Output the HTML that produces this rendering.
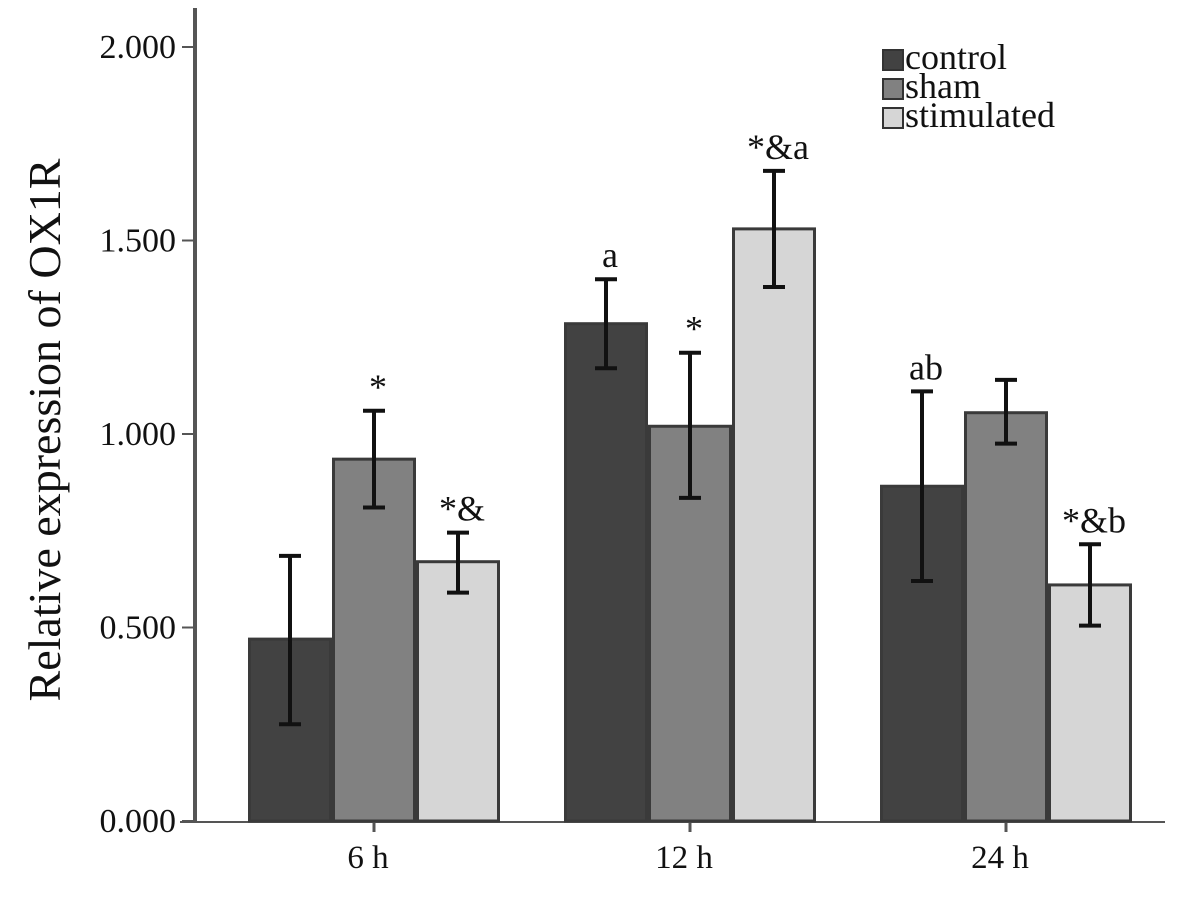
<!DOCTYPE html>
<html><head><meta charset="utf-8"><style>
body{margin:0;background:#fff}
svg text{font-family:"Liberation Serif",serif;fill:#111}
</style></head><body>
<svg width="1181" height="897" viewBox="0 0 1181 897">
<g id="g"></g>
</svg>
<script>
const groups=["6 h","12 h","24 h"];
const series=["control","sham","stimulated"];
const means=[[0.47,1.285,0.865],[0.935,1.02,1.055],[0.67,1.53,0.61]];
const errHi=[[0.685,1.40,1.11],[1.06,1.21,1.14],[0.745,1.68,0.715]];
const errLo=[[0.25,1.17,0.62],[0.81,0.835,0.975],[0.59,1.38,0.505]];
const marks=[["","a","ab"],["*","*",""],["*&","*&a","*&b"]];
const ticks=[0,0.5,1,1.5,2];
const tickLabels=["0.000","0.500","1.000","1.500","2.000"];
const fills=["#424242","#818181","#d6d6d6"];
const NS="http://www.w3.org/2000/svg";
const g=document.getElementById('g');
const y=v=>821-v*387;
const groupCenter=i=>374+i*316;
const barW=84;
const barX=(gi,si)=>groupCenter(gi)-126+si*barW;
function el(t,a,txt){const e=document.createElementNS(NS,t);for(const k in a)e.setAttribute(k,a[k]);if(txt!==undefined)e.textContent=txt;g.appendChild(e);return e;}
let ax=el('line',{x1:195,y1:8,x2:195,y2:822,stroke:'#555','stroke-width':4});


let xx=el('line',{x1:180,y1:822,x2:1165,y2:822,stroke:'#555','stroke-width':2});


ticks.forEach((t,i)=>{
 let l=el('line',{x1:182,y1:y(t),x2:195,y2:y(t),stroke:'#555','stroke-width':2});
 
 
 let tx=el('text',{x:176,y:y(t)+11,'text-anchor':'end','font-size':34},tickLabels[i]);
 
 
});
groups.forEach((gname,gi)=>{
 let tl=el('line',{x1:groupCenter(gi),y1:822,x2:groupCenter(gi),y2:832,stroke:'#555','stroke-width':3});
 
 
 let tx=el('text',{x:groupCenter(gi)-6,y:868,'text-anchor':'middle','font-size':33},gname);
 
 
 series.forEach((s,si)=>{
  const x=barX(gi,si),v=means[si][gi];
  let r=el('rect',{x:x+1.5,y:y(v),width:barW-3,height:821-y(v),fill:fills[si],stroke:'#3a3a3a','stroke-width':3});
  
  
  const cx=x+barW/2;
  let e=el('path',{d:`M${cx},${y(errHi[si][gi])}V${y(errLo[si][gi])}M${cx-11},${y(errHi[si][gi])}H${cx+11}M${cx-11},${y(errLo[si][gi])}H${cx+11}`,stroke:'#111','stroke-width':4,fill:'none'});
  
  
  if(marks[si][gi]){
   let m=el('text',{x:cx+4,y:y(errHi[si][gi])-12,'text-anchor':'middle','font-size':36},marks[si][gi]);
   
   
  }
 });
});
let yt=el('text',{x:0,y:0,transform:'translate(60,430) rotate(-90)','text-anchor':'middle','font-size':46},'Relative expression of OX1R');


series.forEach((s,si)=>{
 let sw=el('rect',{x:883,y:50+si*29,width:20,height:20,fill:fills[si],stroke:'#333','stroke-width':2});
 
 
 let t=el('text',{x:905,y:69+si*29,'font-size':36},s);
 
 
});
</script>
</body></html>
